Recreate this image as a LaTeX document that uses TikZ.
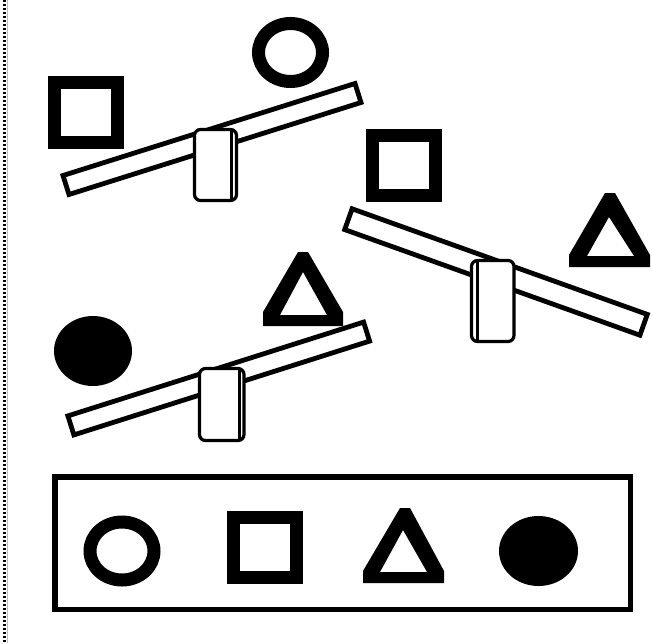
\documentclass[tikz,border=0pt]{standalone}
\begin{document}
\begin{tikzpicture}[x=1pt,y=-1pt,
  ring/.style={draw=black,line width=13pt},
  thicksq/.style={draw=black,line width=13pt,line join=miter},
  plank/.style={draw=black,fill=white,line width=4.8pt,line join=miter},
  fulcrum/.style={draw=black,fill=white,line width=3.2pt,rounded corners=6pt},
  fulcrumline/.style={draw=black,line width=2.2pt},
  frame/.style={draw=black,line width=5.5pt},
  border/.style={draw=black,line width=2.5pt,dash pattern=on 2pt off 2pt}]
\useasboundingbox[fill=white] (0,0) rectangle (652,643);
% left dotted border
\draw[border] (4.5,0) -- (4.5,643);
\draw[black!25,line width=0.8pt] (7,0) -- (7,643);

% ===== seesaw 1 (square vs ring) =====
\draw[thicksq] (54.5,82.5) rectangle (117.5,142.5);
\draw[ring] (290.5,52.5) ellipse [x radius=32pt, y radius=29pt];
\draw[plank] (63,175.5) -- (355,83.5) -- (361,102.5) -- (69,194.5) -- cycle;
\draw[fulcrum] (194.5,129.5) rectangle (236.5,200.5);
\draw[fulcrumline] (231.5,131) -- (231.5,199);

% ===== seesaw 2 (square vs triangle) =====
\draw[thicksq] (372.5,135.5) rectangle (435.5,195.5);
\fill[black,even odd rule] (569,267) -- (569,255) -- (605,193) -- (615,193) -- (650,255) -- (650,267) -- cycle
  (587,256) -- (609,217) -- (634,256) -- cycle;
\draw[plank] (352.1,208.8) -- (647.3,314.4) -- (639.9,335.2) -- (344.7,229.6) -- cycle;
\draw[fulcrum] (471.5,260.5) rectangle (514,341.5);
\draw[fulcrumline] (477.5,262) -- (477.5,340);

% ===== seesaw 3 (disc vs triangle) =====
\fill[black] (93,351) ellipse [x radius=39pt, y radius=35pt];
\fill[black,even odd rule] (263,326) -- (263,312) -- (298,252) -- (308,252) -- (343,312) -- (343,326) -- cycle
  (280,315) -- (303,272) -- (327,315) -- cycle;
\draw[plank] (67.9,415.9) -- (363.6,322.1) -- (369.6,341.1) -- (73.9,434.9) -- cycle;
\draw[fulcrum] (199.5,368.5) rectangle (244,440.5);
\draw[fulcrumline] (239.5,370) -- (239.5,439);

% ===== legend box =====
\draw[frame] (54.75,476.75) rectangle (630.25,609.25);
\draw[ring] (122,551) ellipse [x radius=32pt, y radius=29pt];
\draw[thicksq] (233.5,517.5) rectangle (296.5,577.5);
\fill[black,even odd rule] (363,583) -- (363,571) -- (400,508) -- (410,508) -- (444,571) -- (444,583) -- cycle
  (380,572) -- (403,530) -- (427,572) -- cycle;
\fill[black] (538.5,551) ellipse [x radius=39.5pt, y radius=35pt];
\end{tikzpicture}
\end{document}
